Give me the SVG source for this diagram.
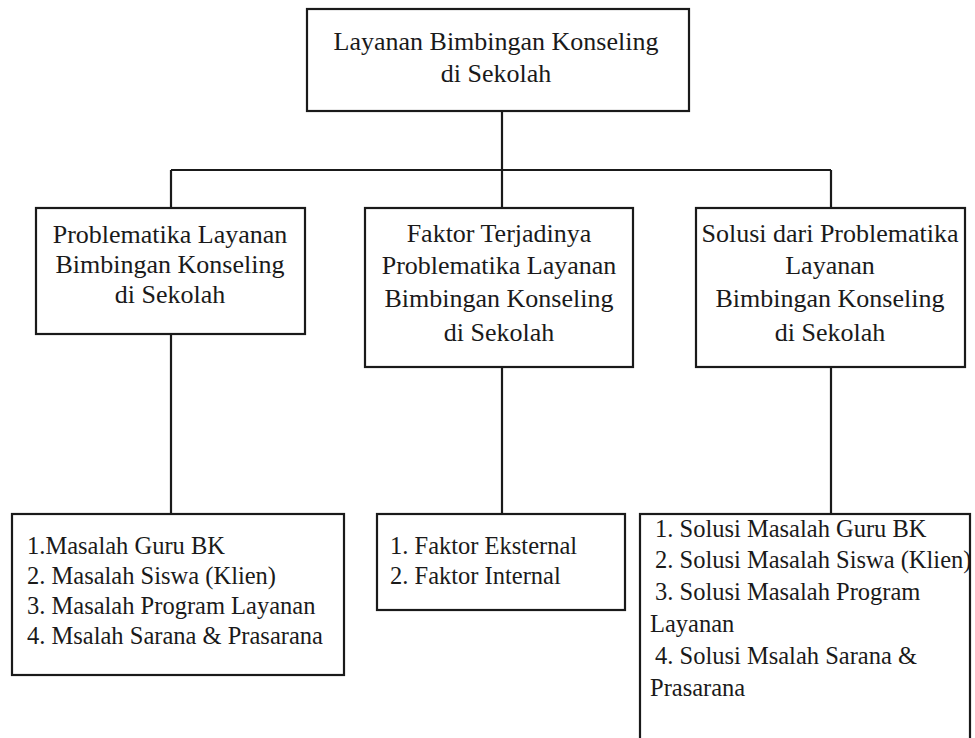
<svg xmlns="http://www.w3.org/2000/svg" width="975" height="738" viewBox="0 0 975 738">
<style>
.box{fill:#fff;stroke:#1a1a1a;stroke-width:2.2}
.t{font-family:"Liberation Serif","Times New Roman",serif;font-size:26px;fill:#1a1a1a}
.c{text-anchor:middle}
.s{font-size:24.5px}
.con{stroke:#1a1a1a;stroke-width:2.2;fill:none}
</style>
<rect width="975" height="738" fill="#fff"/>
<g id="connectors">
<path class="con" d="M502 111V170M171 170H831M171 170V208M502 170V208M831 170V208"/>
<path class="con" d="M171 334V514M502 367V514M831 367V514"/>
</g>
<g id="root">
<rect class="box" x="307" y="9" width="382" height="102"/>
<text class="t c" x="496" y="50">Layanan Bimbingan Konseling</text>
<text class="t c" x="496" y="82">di Sekolah</text>
</g>
<g id="problematika">
<rect class="box" x="36" y="208" width="269" height="126"/>
<text class="t c" x="170" y="243">Problematika Layanan</text>
<text class="t c" x="170" y="273">Bimbingan Konseling</text>
<text class="t c" x="170" y="303">di Sekolah</text>
</g>
<g id="faktor">
<rect class="box" x="365" y="208" width="268" height="159"/>
<text class="t c" x="499" y="242">Faktor Terjadinya</text>
<text class="t c" x="499" y="274">Problematika Layanan</text>
<text class="t c" x="499" y="307">Bimbingan Konseling</text>
<text class="t c" x="499" y="341">di Sekolah</text>
</g>
<g id="solusi">
<rect class="box" x="696" y="208" width="269" height="159"/>
<text class="t c" x="830" y="242">Solusi dari Problematika</text>
<text class="t c" x="830" y="274">Layanan</text>
<text class="t c" x="830" y="307">Bimbingan Konseling</text>
<text class="t c" x="830" y="341">di Sekolah</text>
</g>
<g id="masalah-list">
<rect class="box" x="12" y="514" width="332" height="161"/>
<text class="t s" x="27" y="554">1.Masalah Guru BK</text>
<text class="t s" x="27" y="584">2. Masalah Siswa (Klien)</text>
<text class="t s" x="27" y="614">3. Masalah Program Layanan</text>
<text class="t s" x="27" y="644">4. Msalah Sarana &amp; Prasarana</text>
</g>
<g id="faktor-list">
<rect class="box" x="377" y="514" width="248" height="96"/>
<text class="t s" x="390" y="554">1. Faktor Eksternal</text>
<text class="t s" x="390" y="584">2. Faktor Internal</text>
</g>
<g id="solusi-list">
<rect class="box" x="640" y="514" width="330" height="235"/>
<text class="t s" x="655" y="537">1. Solusi Masalah Guru BK</text>
<text class="t s" x="655" y="568">2. Solusi Masalah Siswa (Klien)</text>
<text class="t s" x="655" y="600">3. Solusi Masalah Program</text>
<text class="t s" x="650" y="632">Layanan</text>
<text class="t s" x="655" y="664">4. Solusi Msalah Sarana &amp;</text>
<text class="t s" x="650" y="696">Prasarana</text>
</g>
</svg>
